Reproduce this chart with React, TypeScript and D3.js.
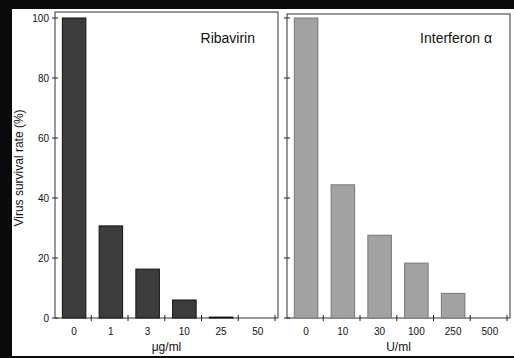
import React from "react";
import * as d3 from "d3";

const ribaCategories = ["0", "1", "3", "10", "25", "50"];
const ribaValues = [100, 30.7, 16.3, 6, 0.3, 0];
const ifnCategories = ["0", "10", "30", "100", "250", "500"];
const ifnValues = [100, 44.4, 27.6, 18.3, 8.2, 0];
const yTicks = [0, 20, 40, 60, 80, 100];

const W = 514;
const H = 358;
const FONT = "'Liberation Sans', Arial, sans-serif";

type PanelProps = {
  x0: number;
  x1: number;
  top: number;
  cats: string[];
  vals: number[];
  title: string;
  titleRight: number;
  unit: string;
  showLabels: boolean;
  fill: string;
  stroke: string;
};

const y = d3.scaleLinear().domain([0, 100]).range([318, 18]);

function Panel({ x0, x1, top, cats, vals, title, titleRight, unit, showLabels, fill, stroke }: PanelProps) {
  const x = d3.scaleBand<string>().domain(cats).range([x0, x0 + 37 * cats.length]).paddingInner(0.36).paddingOuter(0.2);
  const step = x.step();
  const y0 = y(0);
  return (
    <g>
      <rect x={x0} y={top} width={x1 - x0} height={y0 - top} fill="white" stroke="#333" strokeWidth={1} />
      {vals.map((v, i) => (
        <rect
          key={i}
          x={x(cats[i])!}
          y={y(v)}
          width={x.bandwidth()}
          height={y0 - y(v)}
          fill={fill}
          stroke={stroke}
          strokeWidth={1}
        />
      ))}
      {yTicks.map((t) => (
        <g key={t}>
          <line x1={x0 - 3} x2={x0 + 3} y1={y(t)} y2={y(t)} stroke="#222" strokeWidth={1} />
          {showLabels && (
            <text x={x0 - 6} y={y(t)} dy="0.35em" textAnchor="end" fontSize={10} fontFamily={FONT} fill="#111">
              {t}
            </text>
          )}
        </g>
      ))}
      {cats.map((c, i) => (
        <line key={c + "t"} x1={x0 + step * (i + 1) - 0.5} x2={x0 + step * (i + 1) - 0.5} y1={y0 - 3} y2={y0 + 3} stroke="#222" strokeWidth={1} />
      ))}
      {cats.map((c) => (
        <text key={c} x={x(c)! + x.bandwidth() / 2} y={y0 + 17} textAnchor="middle" fontSize={10} fontFamily={FONT} fill="#111">
          {c}
        </text>
      ))}
      <text x={(x0 + x1) / 2} y={351} textAnchor="middle" fontSize={12} fontFamily={FONT} fill="#111">
        {unit}
      </text>
      <text x={x1 - titleRight} y={43} textAnchor="end" fontSize={14} fontFamily={FONT} fill="#111">
        {title}
      </text>
    </g>
  );
}

export default function App() {
  return (
    <svg width={W} height={H} style={{ display: "block", position: "absolute", left: 0, top: 0 }}>
      <rect x={0} y={0} width={W} height={H} fill="#0a0a0a" />
      <rect x={12} y={9} width={W - 12} height={H - 11} fill="white" />
      <Panel
        x0={55}
        x1={278}
        top={12}
        cats={ribaCategories}
        vals={ribaValues}
        title="Ribavirin"
        titleRight={23}
        unit="μg/ml"
        showLabels={true}
        fill="#3c3c3c"
        stroke="#111"
      />
      <Panel
        x0={287}
        x1={510}
        top={14}
        cats={ifnCategories}
        vals={ifnValues}
        title="Interferon α"
        titleRight={18}
        unit="U/ml"
        showLabels={false}
        fill="#a2a2a2"
        stroke="#777"
      />
      <text
        transform={`translate(23,${168}) rotate(-90)`}
        textAnchor="middle"
        fontSize={12}
        fontFamily={FONT}
        fill="#111"
      >
        Virus survival rate (%)
      </text>
    </svg>
  );
}
